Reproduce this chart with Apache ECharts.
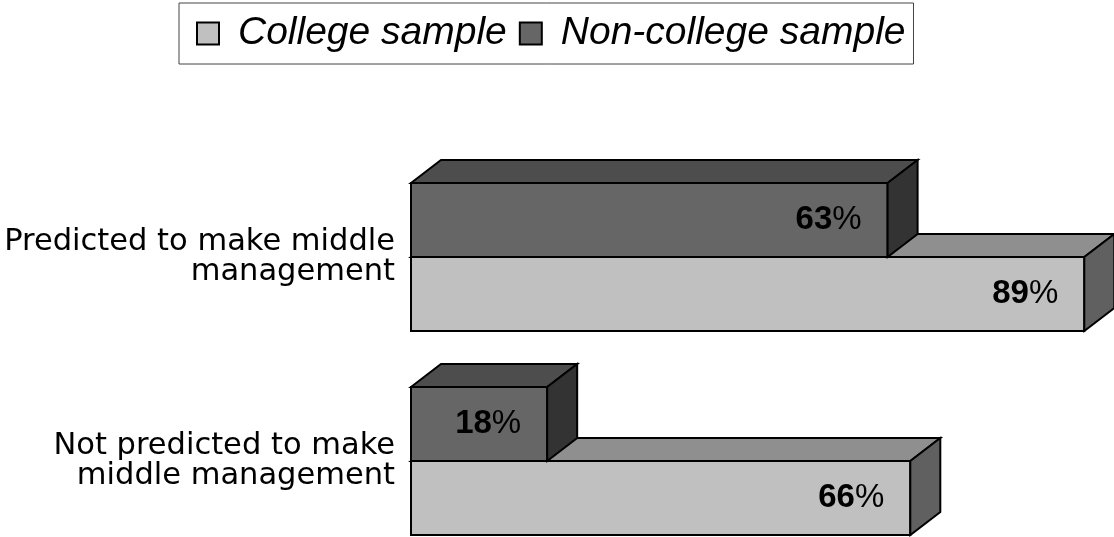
<!DOCTYPE html>
<html>
<head>
<meta charset="utf-8">
<script src="https://cdn.jsdelivr.net/npm/echarts@6/dist/echarts.min.js"></script>
<style>
html,body{margin:0;padding:0;background:#fff;}
#chart{width:1114px;height:537px;}
</style>
</head>
<body>
<div id="chart"></div>
<script>
var categories = ['Predicted to make middle\nmanagement', 'Not predicted to make\nmiddle management'];
var collegeValues = [89, 66];
var nonCollegeValues = [63, 18];
var seriesNames = ['College sample', 'Non-college sample'];

// face colours: front, top, side
var shades = {
    college: ['#C0C0C0', '#8F8F8F', '#606060'],
    noncollege: ['#666666', '#4D4D4D', '#333333']
};
var depthX = 30, depthY = -23;

function makeRender(upper, colors){
    return function(params, api){
        var val = api.value(0);
        var cat = api.value(1);
        var start = api.coord([0, cat]);
        var end = api.coord([val, cat]);
        var band = api.size([0, 1])[1];
        var h = band * 0.363;
        var x0 = start[0], x1 = end[0];
        var y0 = upper ? start[1] - h : start[1];
        var y1 = y0 + h;
        var line = {stroke: '#000', lineWidth: 2, lineJoin: 'miter'};
        function poly(pts, fill){
            return {type: 'polygon', shape: {points: pts},
                style: Object.assign({fill: fill}, line)};
        }
        return {
            type: 'group',
            children: [
                poly([[x0, y0], [x1, y0], [x1, y1], [x0, y1]], colors[0]),
                poly([[x0, y0], [x0 + depthX, y0 + depthY], [x1 + depthX, y0 + depthY], [x1, y0]], colors[1]),
                poly([[x1, y0], [x1 + depthX, y0 + depthY], [x1 + depthX, y1 + depthY], [x1, y1]], colors[2]),
                {
                    type: 'text',
                    x: x1 - 26,
                    y: (y0 + y1) / 2,
                    style: {
                        text: '{b|' + val + '}{p|%}',
                        align: 'right',
                        verticalAlign: 'middle',
                        rich: {
                            b: {fontFamily: 'Liberation Sans', fontWeight: 'bold', fontSize: 33, fill: '#000'},
                            p: {fontFamily: 'Liberation Sans', fontSize: 33, fill: '#000'}
                        }
                    }
                }
            ]
        };
    };
}

function toData(values){
    var out = [];
    for(var i = 0; i < values.length; i++){
        out.push([values[i], i]);
    }
    return out;
}

var chart = echarts.init(document.getElementById('chart'));
var option = {
    backgroundColor: '#fff',
    animation: false,
    legend: {
        data: seriesNames,
        left: 179,
        top: 3,
        orient: 'horizontal',
        icon: 'rect',
        itemWidth: 22,
        itemHeight: 22,
        itemGap: 12,
        padding: [11, 8, 11, 17],
        borderColor: '#444',
        borderWidth: 1,
        itemStyle: {borderColor: '#000', borderWidth: 2},
        textStyle: {
            fontFamily: 'Liberation Sans',
            fontStyle: 'italic',
            fontSize: 39,
            color: '#000',
            padding: [0, 0, 0, 14]
        }
    },
    // category centres sit on the grid edges (boundaryGap false)
    grid: {left: 411, right: 7, top: 257, height: 204, outerBoundsMode: 'none', containLabel: false},
    xAxis: {type: 'value', min: 0, max: 92, show: false},
    yAxis: {
        type: 'category',
        data: categories,
        inverse: true,
        boundaryGap: false,
        axisLine: {show: false},
        axisTick: {show: false},
        splitLine: {show: false},
        axisLabel: {
            fontFamily: 'DejaVu Sans',
            fontSize: 30.5,
            lineHeight: 30,
            color: '#000',
            margin: 16,
            align: 'right'
        }
    },
    series: [
        {
            name: seriesNames[0],
            type: 'custom',
            renderItem: makeRender(false, shades.college),
            itemStyle: {color: shades.college[0]},
            encode: {x: 0, y: 1},
            data: toData(collegeValues)
        },
        {
            name: seriesNames[1],
            type: 'custom',
            renderItem: makeRender(true, shades.noncollege),
            itemStyle: {color: shades.noncollege[0]},
            encode: {x: 0, y: 1},
            data: toData(nonCollegeValues)
        }
    ]
};
chart.setOption(option);
</script>
</body>
</html>
